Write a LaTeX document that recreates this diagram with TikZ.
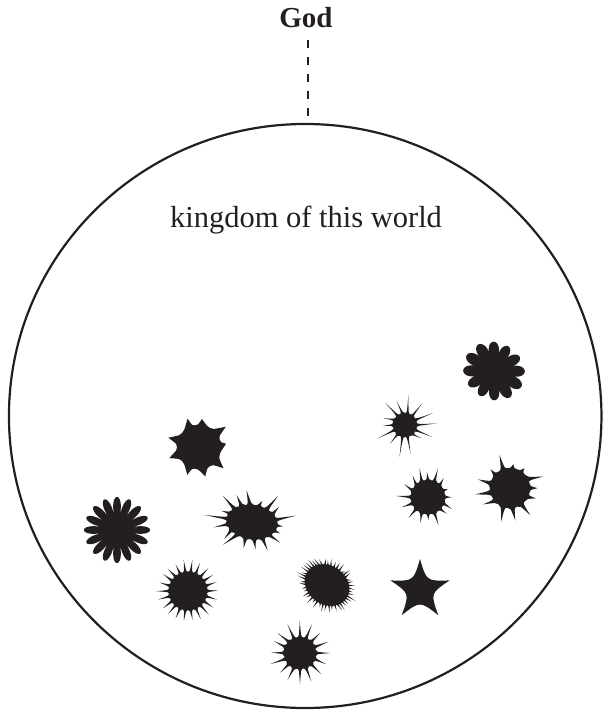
\documentclass[tikz,border=0pt]{standalone}
\usepackage{fontspec}
\setmainfont{Liberation Serif}
\usetikzlibrary{shapes.geometric}
\definecolor{ink}{HTML}{231F20}
\def\blobctl{0.22}
\newcommand{\blobsplat}[9]{%
  \begin{scope}[shift={(#1,#2)},#9]
    \pgfmathsetseed{#8}%
    \pgfmathsetmacro\st{360/#3}%
    \pgfmathtruncatemacro\nm{#3-1}%
    \fill[blob] ({-\st/2}:#4) \foreach \i in {0,...,\nm} {
      .. controls ({\i*\st-\blobctl*\st}:#4) .. ({\i*\st+(rnd-0.5)*#7*\st}:{#5+rnd*#6})
      .. controls ({\i*\st+\blobctl*\st}:#4) .. ({\i*\st+\st/2}:#4) } -- cycle;
  \end{scope}}
\tikzset{
  blob/.style={fill=ink},
  label/.style={text=ink, inner sep=0pt},
  dashline/.style={draw=ink, line width=2.6pt, dash pattern=on 8.5pt off 8.5pt},
}
\begin{document}
\begin{tikzpicture}[x=1pt,y=-1pt]
\useasboundingbox (0,0) rectangle (603,714);
% world circle
\node[draw=ink, line width=2.2pt, ellipse, minimum width=592.5pt, minimum height=584pt, inner sep=0pt, outer sep=0pt] (world) at (305.2,416) {};
% God
\node[label, anchor=base, font=\fontsize{29}{30}\selectfont\bfseries] (god) at (306,28) {God};
\coordinate (dstart) at (308,40);
\coordinate (dend) at (308,116);
\draw[dashline] (dstart) -- (dend);
% title
\node[label, anchor=base, font=\fontsize{30.5}{32}\selectfont] (kingdom) at (306,227) {kingdom of this world};

% 1 ragged blob
\def\blobctl{0.32}
\blobsplat{199}{447}{9}{22}{26}{8}{0.4}{7}{}
% 2 daisy
\fill[blob, shift={(117,530)}] plot[domain=0:360, samples=600, variable=\t]
  (\t:{12+21*(abs(cos(8*\t))+0.001)^0.45});
% 3 wide splat
\def\blobctl{0.2}
\blobsplat{252}{522}{18}{17}{20}{15}{0.4}{5}{rotate=-8, xscale=1.5}
% 4 sun
\def\blobctl{0.2}
\blobsplat{188}{591}{22}{19}{29}{3}{0.1}{11}{}
% 5 oval fuzzy
\def\blobctl{0.25}
\blobsplat{327}{585}{46}{19}{22}{5}{0.3}{13}{rotate=-35, xscale=1.22}
% 6 small sun
\def\blobctl{0.18}
\blobsplat{300}{653}{16}{16}{28}{4}{0.1}{17}{}
% 7 star
\begin{scope}[shift={(420,590)}]
  \fill[blob] (-90:31) .. controls (-54:11) .. (-18:31) .. controls (18:11) .. (54:31)
     .. controls (90:11) .. (126:31) .. controls (162:11) .. (198:31) .. controls (234:11) .. (-90:31) -- cycle;
\end{scope}
% 8 flower
\fill[blob, shift={(494,371)}] plot[domain=0:360, samples=600, variable=\t]
  (\t:{18+12*(abs(cos(6*\t))+0.001)^0.5+1.5*sin(2*\t+30)});
% 9 spiky star
\def\blobctl{0.15}
\blobsplat{405}{425}{14}{12}{17}{16}{0.3}{23}{}
% 10
\def\blobctl{0.18}
\blobsplat{428}{497}{16}{17}{21}{11}{0.3}{29}{}
% 11
\def\blobctl{0.2}
\blobsplat{510}{488}{13}{20}{23}{14}{0.3}{31}{}
\end{tikzpicture}
\end{document}
